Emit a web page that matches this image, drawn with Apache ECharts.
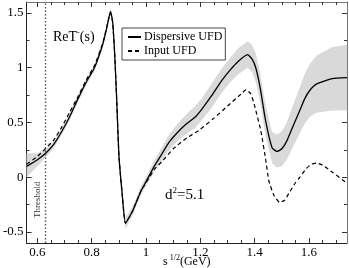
<!DOCTYPE html>
<html><head><meta charset="utf-8">
<script src="https://cdn.jsdelivr.net/npm/echarts@6/dist/echarts.min.js"></script>
<style>html,body{margin:0;padding:0;background:#fff}#c{width:349px;height:268px}</style>
</head><body><div id="c"></div>
<script>
// x grid shared by the dispersive curve and its band
var xGrid   = [0.56,0.6,0.633,0.66,0.69,0.72,0.75,0.78,0.81,0.84,0.855,0.869,0.877,0.885,0.892,0.9,0.912,0.924,0.95,0.982,1.0,1.03,1.06,1.085,1.12,1.15,1.181,1.205,1.24,1.278,1.31,1.34,1.374,1.39,1.404,1.42,1.44,1.464,1.482,1.5,1.518,1.54,1.566,1.585,1.602,1.627,1.686,1.74];
var dispersive = [0.10,0.16,0.227,0.30,0.42,0.56,0.72,0.87,1.00,1.21,1.36,1.515,1.42,1.10,0.70,0.20,-0.15,-0.42,-0.31,-0.12,-0.04,0.10,0.22,0.32,0.42,0.49,0.55,0.62,0.74,0.88,0.98,1.06,1.12,1.08,1.00,0.82,0.52,0.27,0.236,0.26,0.33,0.46,0.61,0.72,0.79,0.85,0.90,0.91];
var bandLow  = [0.00,0.10,0.19,0.27,0.39,0.53,0.69,0.84,0.97,1.18,1.33,1.49,1.39,1.07,0.67,0.17,-0.19,-0.47,-0.35,-0.16,-0.08,0.05,0.16,0.25,0.34,0.40,0.45,0.52,0.63,0.77,0.87,0.94,1.00,0.96,0.87,0.69,0.38,0.13,0.09,0.10,0.16,0.27,0.40,0.49,0.55,0.59,0.61,0.61];
var bandHigh = [0.22,0.22,0.26,0.33,0.45,0.59,0.75,0.90,1.03,1.24,1.39,1.54,1.45,1.13,0.73,0.23,-0.11,-0.37,-0.27,-0.08,0.00,0.15,0.28,0.39,0.50,0.58,0.65,0.72,0.85,0.99,1.09,1.18,1.24,1.21,1.13,0.95,0.66,0.41,0.39,0.42,0.50,0.65,0.82,0.95,1.03,1.11,1.19,1.21];
// input UFD (dashed)
var xInput = [0.56,0.6,0.633,0.66,0.69,0.72,0.75,0.78,0.81,0.84,0.855,0.869,0.877,0.885,0.892,0.9,0.912,0.924,0.95,0.982,1.0,1.03,1.061,1.1,1.15,1.193,1.25,1.3,1.35,1.368,1.386,1.40,1.423,1.44,1.452,1.47,1.492,1.51,1.53,1.55,1.566,1.59,1.61,1.627,1.65,1.69,1.735];
var inputUFD = [0.12,0.19,0.27,0.34,0.46,0.60,0.74,0.89,1.02,1.22,1.37,1.50,1.41,1.10,0.70,0.20,-0.15,-0.42,-0.31,-0.12,-0.05,0.07,0.15,0.26,0.36,0.425,0.54,0.65,0.76,0.80,0.76,0.65,0.42,0.17,-0.03,-0.16,-0.23,-0.21,-0.13,-0.05,0.0,0.08,0.12,0.13,0.11,0.04,-0.045];
var thresholdX = 0.633;
var xMajor = [0.6,0.8,1.0,1.2,1.4,1.6];
var xMinor = [0.6,0.65,0.7,0.75,0.8,0.85,0.9,0.95,1.0,1.05,1.1,1.15,1.2,1.25,1.3,1.35,1.4,1.45,1.5,1.55,1.6,1.65,1.7];
var yMajor = [-0.5,0,0.5,1,1.5];
var yMinor = [-0.5,-0.25,0,0.25,0.5,0.75,1,1.25,1.5];
var names = ['Dispersive UFD','Input UFD'];

var serif = 'Liberation Serif';
function pairs(xs, ys){ return xs.map(function(x,i){return [x, ys[i]];}); }

var X0=0.56, X1=1.74, Y0=-0.6, Y1=1.6;
function xa(pos, vals, len, labels, lineColor, showLine){
  return {type:'value', position:pos, min:X0, max:X1,
    axisLine:{show:showLine, onZero:false, lineStyle:{color:lineColor, width:1}},
    axisTick:{show:true, inside:true, length:len, customValues:vals, lineStyle:{color:'#333'}},
    axisLabel:{show:labels, customValues:vals, margin:3, color:'#000', fontFamily:serif, fontSize:13},
    splitLine:{show:false}};
}
function ya(pos, vals, len, labels, lineColor, showLine){
  return {type:'value', position:pos, min:Y0, max:Y1,
    axisLine:{show:showLine, onZero:false, lineStyle:{color:lineColor, width:1}},
    axisTick:{show:true, inside:true, length:len, customValues:vals, lineStyle:{color:'#333'}},
    axisLabel:{show:labels, customValues:vals, margin:3, color:'#000', fontFamily:serif, fontSize:13},
    splitLine:{show:false}};
}

var chart = echarts.init(document.getElementById('c'), null, {renderer:'canvas'});
chart.setOption({
  animation:false,
  grid:{left:21, right:2, top:2, bottom:25, containLabel:false},
  xAxis:[xa('bottom',xMajor,5,true,'#222',true), xa('bottom',xMinor,3,false,'#222',false),
         xa('top',xMajor,5,false,'#777',true), xa('top',xMinor,3,false,'#777',false)],
  yAxis:[ya('left',yMajor,5,true,'#222',true), ya('left',yMinor,3,false,'#222',false),
         ya('right',yMajor,5,false,'#777',true), ya('right',yMinor,3,false,'#777',false)],
  legend:{left:122, top:28, orient:'vertical', data:names, itemWidth:13, itemHeight:10, itemGap:2,
    padding:[3,3,3,5], borderColor:'#444', borderWidth:1, backgroundColor:'#fff',
    itemStyle:{opacity:0, borderWidth:0},
    textStyle:{fontFamily:serif, fontSize:12, color:'#000', padding:[0,0,0,-2]}},
  series:[
    {type:'custom', name:'band', silent:true, z:1, coordinateSystem:'cartesian2d',
     data:[[xGrid[0], bandLow[0]]],
     renderItem:function(params, api){
       var pts = [];
       for (var i=0;i<xGrid.length;i++) pts.push(api.coord([xGrid[i], bandLow[i]]));
       for (var j=xGrid.length-1;j>=0;j--) pts.push(api.coord([xGrid[j], bandHigh[j]]));
       return {type:'polygon', shape:{points:pts}, style:{fill:'#d9d9d9', stroke:null}};
     }},
    {type:'line', name:names[0], data:pairs(xGrid,dispersive), symbol:'none', smooth:0.15,
     lineStyle:{color:'#000', width:1.3}, itemStyle:{color:'#000'}, z:3,
     markLine:{silent:true, symbol:'none', label:{show:false},
       lineStyle:{type:[1.5,2], color:'#555', width:1.4}, data:[{xAxis:thresholdX}]}},
    {type:'line', name:names[1], data:pairs(xInput,inputUFD), symbol:'none', smooth:0.15,
     lineStyle:{color:'#000', width:1.2, type:[4,3]}, itemStyle:{color:'#000'}, z:3}
  ],
  graphic:[
    {type:'text', left:53, top:29, style:{rich:{b:{fontFamily:serif,fontSize:14,fill:'#000'}, s:{fontFamily:serif,fontSize:8,fill:'#000', padding:[0,0,8,0]}},
      text:'{b|ReT}{s|-}{b|(s)}'}},
    {type:'text', left:165, top:186, style:{rich:{b:{fontFamily:serif,fontSize:15,fill:'#000'}, s:{fontFamily:serif,fontSize:9,fill:'#000', padding:[0,0,9,0]}},
      text:'{b|d}{s|2}{b|=5.1}'}},
    {type:'text', x:42, y:218, rotation:Math.PI/2, style:{text:'Threshold', fontFamily:serif, fontSize:9, fill:'#333', textVerticalAlign:'bottom'}},
    {type:'text', left:163, top:254, style:{rich:{b:{fontFamily:serif,fontSize:12,fill:'#000'}, s:{fontFamily:serif,fontSize:8,fill:'#000', padding:[0,0,7,0]}},
      text:'{b|s}{s| 1/2}{b|(GeV)}'}}
  ]
});
</script></body></html>
